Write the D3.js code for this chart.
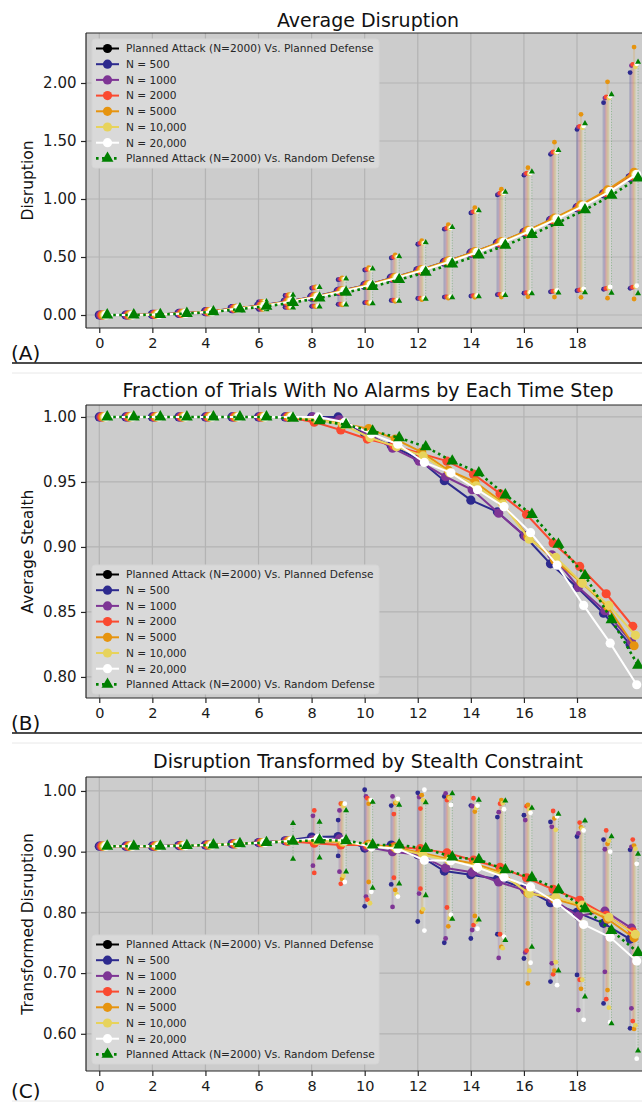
<!DOCTYPE html>
<meta charset="utf-8">
<style>
body { margin: 0; background: #fff; }
text { font-family: "DejaVu Sans", sans-serif; }
.grid line { stroke: #b3b3b3; stroke-width: 1.2; }
.axis path, .axis line { stroke: #262626; stroke-width: 1.2; }
.axis text { fill: #1a1a1a; }
.legend text { font-size: 10.6px; fill: #262626; }
</style>
<body>
<script src="https://d3js.org/d3.v7.min.js"></script>
<script>
const steps = [0,1,2,3,4,5,6,7,8,9,10,11,12,13,14,15,16,17,18,19,20];
const xTicks = [0,2,4,6,8,10,12,14,16,18];
const seriesNames = ["N = 500","N = 1000","N = 2000","N = 5000","N = 10,000","N = 20,000"];
const seriesColors = ["#2d2a8e","#7e3595","#fa4a30","#e6940f","#e7d35c","#ffffff"];
const randomColor = "#008000";
const legendLabels = ["Planned Attack (N=2000) Vs. Planned Defense"].concat(seriesNames, ["Planned Attack (N=2000) Vs. Random Defense"]);

// panel A: average disruption (rows: N = 500 ... 20,000)
const disruptionMean = [
  [0,0,0.005,0.014,0.029,0.055,0.079,0.114,0.154,0.204,0.255,0.318,0.383,0.455,0.533,0.618,0.712,0.815,0.925,1.045,1.185],
  [0,0,0.005,0.014,0.029,0.055,0.080,0.115,0.155,0.205,0.256,0.319,0.385,0.457,0.535,0.620,0.715,0.818,0.928,1.050,1.190],
  [0,0,0.005,0.014,0.029,0.056,0.080,0.115,0.156,0.206,0.257,0.320,0.386,0.458,0.537,0.623,0.718,0.822,0.933,1.056,1.200],
  [0,0,0.005,0.015,0.030,0.057,0.081,0.117,0.158,0.209,0.261,0.325,0.392,0.466,0.546,0.633,0.730,0.836,0.950,1.078,1.230],
  [0,0,0.005,0.014,0.029,0.056,0.080,0.116,0.157,0.207,0.258,0.321,0.388,0.461,0.540,0.626,0.722,0.826,0.938,1.062,1.210],
  [0,0,0.005,0.014,0.029,0.056,0.080,0.116,0.157,0.207,0.259,0.322,0.389,0.462,0.541,0.628,0.724,0.829,0.941,1.066,1.212]
];
const disruptionMax = [
  [0,0,0.005,0.014,0.029,0.074,0.113,0.168,0.232,0.305,0.388,0.492,0.610,0.740,0.880,1.035,1.205,1.385,1.600,1.830,2.090],
  [0,0,0.005,0.014,0.029,0.075,0.114,0.170,0.235,0.308,0.392,0.497,0.615,0.745,0.887,1.043,1.215,1.398,1.620,1.870,2.150],
  [0,0,0.005,0.014,0.029,0.075,0.115,0.171,0.236,0.310,0.394,0.500,0.620,0.750,0.892,1.050,1.222,1.405,1.625,1.880,2.160],
  [0,0,0.005,0.015,0.030,0.077,0.118,0.176,0.243,0.320,0.408,0.518,0.642,0.778,0.925,1.085,1.270,1.490,1.730,2.010,2.310],
  [0,0,0.005,0.014,0.029,0.075,0.115,0.171,0.236,0.309,0.393,0.499,0.618,0.748,0.890,1.047,1.218,1.400,1.615,1.870,2.140],
  [0,0,0.005,0.014,0.029,0.075,0.115,0.171,0.237,0.311,0.395,0.501,0.621,0.752,0.894,1.052,1.225,1.408,1.630,1.885,2.165]
];
const disruptionMin = [
  [0,0,0.005,0.014,0.029,0.040,0.049,0.066,0.075,0.092,0.106,0.126,0.143,0.155,0.163,0.175,0.188,0.200,0.210,0.222,0.230],
  [0,0,0.005,0.014,0.029,0.040,0.049,0.066,0.076,0.093,0.107,0.127,0.144,0.156,0.165,0.177,0.190,0.203,0.213,0.226,0.236],
  [0,0,0.005,0.014,0.029,0.041,0.050,0.067,0.077,0.094,0.108,0.128,0.145,0.157,0.166,0.178,0.192,0.205,0.216,0.229,0.240],
  [0,0,0.005,0.015,0.030,0.040,0.048,0.064,0.073,0.088,0.100,0.118,0.132,0.145,0.152,0.155,0.157,0.155,0.152,0.145,0.138],
  [0,0,0.005,0.014,0.029,0.041,0.050,0.067,0.077,0.094,0.108,0.128,0.145,0.158,0.167,0.180,0.194,0.208,0.220,0.234,0.245],
  [0,0,0.005,0.014,0.029,0.041,0.050,0.067,0.078,0.095,0.109,0.129,0.146,0.159,0.169,0.182,0.197,0.212,0.226,0.242,0.252]
];
const disruptionRandomMean = [0,0,0.004,0.013,0.027,0.052,0.075,0.108,0.146,0.195,0.245,0.305,0.368,0.440,0.517,0.600,0.694,0.797,0.907,1.032,1.180];
const disruptionRandomMax  = [0,0,0.004,0.013,0.027,0.076,0.117,0.173,0.240,0.313,0.398,0.505,0.625,0.757,0.900,1.060,1.235,1.420,1.650,1.900,2.180];
const disruptionRandomMin  = [0,0,0.004,0.013,0.027,0.039,0.047,0.063,0.072,0.088,0.100,0.120,0.137,0.150,0.160,0.170,0.185,0.192,0.195,0.190,0.186];

// panel B: fraction of trials with no alarms
const stealthMean = [
  [1,1,1,1,1,1,1,1,1.000,1.000,0.987,0.978,0.968,0.951,0.936,0.927,0.909,0.887,0.869,0.849,0.825],
  [1,1,1,1,1,1,1,1,1.000,0.998,0.988,0.976,0.966,0.954,0.944,0.926,0.908,0.894,0.869,0.851,0.827],
  [1,1,1,1,1,1,1,1,0.996,0.990,0.983,0.978,0.972,0.966,0.956,0.941,0.925,0.903,0.885,0.864,0.839],
  [1,1,1,1,1,1,1,1,0.998,0.995,0.991,0.983,0.973,0.959,0.950,0.935,0.908,0.890,0.873,0.854,0.824],
  [1,1,1,1,1,1,1,1,0.998,0.994,0.984,0.977,0.970,0.957,0.947,0.933,0.906,0.892,0.872,0.855,0.832],
  [1,1,1,1,1,1,1,1,1.000,0.996,0.987,0.979,0.965,0.957,0.944,0.931,0.911,0.886,0.855,0.826,0.794]
];
const stealthRandomMean = [1,1,1,1,1,1,1,0.999,0.997,0.994,0.989,0.984,0.977,0.966,0.957,0.940,0.925,0.902,0.878,0.844,0.809];

// panel C: disruption transformed by stealth constraint
const transformedMean = [
  [0.909,0.909,0.909,0.910,0.911,0.913,0.915,0.918,0.924,0.925,0.906,0.911,0.895,0.868,0.862,0.855,0.840,0.816,0.800,0.782,0.756],
  [0.909,0.909,0.909,0.910,0.911,0.913,0.915,0.918,0.920,0.921,0.908,0.900,0.895,0.873,0.866,0.850,0.836,0.822,0.794,0.802,0.774],
  [0.909,0.909,0.909,0.910,0.911,0.913,0.915,0.917,0.914,0.911,0.911,0.908,0.905,0.898,0.886,0.874,0.857,0.838,0.820,0.795,0.768],
  [0.909,0.909,0.909,0.910,0.911,0.913,0.915,0.918,0.918,0.915,0.912,0.907,0.898,0.888,0.880,0.866,0.832,0.822,0.810,0.789,0.758],
  [0.909,0.909,0.909,0.910,0.911,0.913,0.915,0.918,0.919,0.916,0.910,0.905,0.895,0.885,0.876,0.862,0.831,0.825,0.812,0.792,0.764],
  [0.909,0.909,0.909,0.910,0.911,0.913,0.915,0.918,0.922,0.918,0.908,0.905,0.886,0.885,0.874,0.858,0.842,0.815,0.780,0.759,0.720]
];
const transformedMax = [
  [0.909,0.909,0.909,0.910,0.911,0.913,0.915,0.918,0.926,0.952,1.002,0.976,0.997,0.991,0.976,0.957,0.960,0.949,0.925,0.920,0.903],
  [0.909,0.909,0.909,0.910,0.911,0.913,0.915,0.918,0.959,0.968,0.991,0.991,0.990,0.996,0.975,0.965,0.952,0.941,0.930,0.904,0.908],
  [0.909,0.909,0.909,0.910,0.911,0.913,0.915,0.917,0.968,0.979,0.988,0.962,0.971,0.985,0.988,0.979,0.975,0.967,0.948,0.935,0.920],
  [0.909,0.909,0.909,0.910,0.911,0.913,0.915,0.918,0.920,0.979,0.979,0.980,0.993,0.990,0.966,0.985,0.977,0.955,0.940,0.913,0.910],
  [0.909,0.909,0.909,0.910,0.911,0.913,0.915,0.918,0.921,0.975,0.985,0.982,0.985,0.988,0.972,0.980,0.970,0.936,0.938,0.918,0.905],
  [0.909,0.909,0.909,0.910,0.911,0.913,0.915,0.918,0.924,0.979,0.985,0.987,1.002,0.977,0.976,0.970,0.964,0.958,0.935,0.900,0.880]
];
const transformedMin = [
  [0.909,0.909,0.909,0.910,0.911,0.913,0.915,0.918,0.922,0.893,0.810,0.846,0.785,0.750,0.757,0.764,0.724,0.686,0.697,0.650,0.609],
  [0.909,0.909,0.909,0.910,0.911,0.913,0.915,0.918,0.877,0.867,0.826,0.809,0.831,0.757,0.771,0.725,0.734,0.716,0.639,0.702,0.642],
  [0.909,0.909,0.909,0.910,0.911,0.913,0.915,0.917,0.865,0.847,0.821,0.857,0.839,0.808,0.779,0.764,0.737,0.698,0.689,0.657,0.621],
  [0.909,0.909,0.909,0.910,0.911,0.913,0.915,0.918,0.916,0.855,0.850,0.837,0.801,0.777,0.794,0.743,0.683,0.704,0.674,0.672,0.608],
  [0.909,0.909,0.909,0.910,0.911,0.913,0.915,0.918,0.917,0.860,0.815,0.830,0.805,0.790,0.785,0.741,0.704,0.718,0.689,0.643,0.614],
  [0.909,0.909,0.909,0.910,0.911,0.913,0.915,0.918,0.920,0.850,0.834,0.826,0.770,0.796,0.773,0.760,0.717,0.680,0.623,0.619,0.559]
];
const transformedRandomMean = [0.909,0.909,0.909,0.910,0.911,0.913,0.915,0.917,0.919,0.918,0.911,0.911,0.905,0.891,0.887,0.870,0.857,0.837,0.806,0.770,0.734];
const transformedRandomMax  = [0.909,0.909,0.909,0.910,0.911,0.913,0.915,0.947,0.949,0.968,0.982,0.977,0.981,0.996,0.985,0.984,0.972,0.962,0.951,0.925,0.896];
const transformedRandomMin  = [0.909,0.909,0.909,0.910,0.911,0.913,0.915,0.888,0.890,0.867,0.840,0.847,0.828,0.789,0.788,0.754,0.743,0.704,0.661,0.617,0.572];

const W = 642, H = 1103;
const svg = d3.select("body").append("svg").attr("width", W).attr("height", H);
svg.append("rect").attr("width", W).attr("height", H).attr("fill", "#fff");

const x = d3.scaleLinear().domain([-0.5, 20.75]).range([86, 650]);
const left = 86, right = 650;

const tri = d3.symbol().type(d3.symbolTriangle);

function drawPanel(p, idx) {
  const y = d3.scaleLinear().domain(p.yDomain).range([p.bottom, p.top]);
  const g = svg.append("g");

  g.append("rect").attr("x", left).attr("y", p.top)
    .attr("width", right - left).attr("height", p.bottom - p.top).attr("fill", "#cccccc");

  const clipId = "clip" + idx;
  svg.append("clipPath").attr("id", clipId).append("rect")
    .attr("x", left).attr("y", p.top).attr("width", right - left).attr("height", p.bottom - p.top);

  // grid
  const grid = g.append("g").attr("class", "grid");
  grid.selectAll(".gx").data(xTicks).enter().append("line")
    .attr("x1", d => x(d)).attr("x2", d => x(d)).attr("y1", p.top).attr("y2", p.bottom);
  grid.selectAll(".gy").data(p.yTicks).enter().append("line")
    .attr("x1", left).attr("x2", right).attr("y1", d => y(d)).attr("y2", d => y(d));

  const plot = g.append("g").attr("clip-path", "url(#" + clipId + ")");

  // min/max ranges
  if (p.max) {
    p.max.forEach((row, j) => {
      const off = j * 0.05;
      plot.append("g").selectAll("line").data(steps).enter().append("line")
        .attr("x1", t => x(t + off)).attr("x2", t => x(t + off))
        .attr("y1", (t, k) => y(p.min[j][k])).attr("y2", (t, k) => y(row[k]))
        .attr("stroke", seriesColors[j]).attr("stroke-width", 2).attr("opacity", 0.18);
    });
    plot.append("g").selectAll("line").data(steps).enter().append("line")
      .attr("x1", t => x(t + 0.3)).attr("x2", t => x(t + 0.3))
      .attr("y1", (t, k) => y(p.rMin[k])).attr("y2", (t, k) => y(p.rMax[k]))
      .attr("stroke", randomColor).attr("stroke-width", 1).attr("stroke-dasharray", "1,1.7").attr("opacity", 0.3);
    p.max.forEach((row, j) => {
      const off = j * 0.05;
      [row, p.min[j]].forEach(vals => {
        plot.append("g").selectAll("circle").data(steps).enter().append("circle")
          .attr("cx", t => x(t + off)).attr("cy", (t, k) => y(vals[k]))
          .attr("r", 2.4).attr("fill", seriesColors[j]);
      });
    });
    [p.rMax, p.rMin].forEach(vals => {
      plot.append("g").selectAll("path").data(steps).enter().append("path")
        .attr("d", tri.size(16)())
        .attr("transform", (t, k) => "translate(" + x(t + 0.3) + "," + y(vals[k]) + ")")
        .attr("fill", randomColor);
    });
  }

  // mean lines
  p.mean.forEach((row, j) => {
    const off = j * 0.05;
    const line = d3.line().x((d, k) => x(steps[k] + off)).y(d => y(d));
    plot.append("path").datum(row).attr("d", line)
      .attr("fill", "none").attr("stroke", seriesColors[j]).attr("stroke-width", 2);
    plot.append("g").selectAll("circle").data(row).enter().append("circle")
      .attr("cx", (d, k) => x(steps[k] + off)).attr("cy", d => y(d))
      .attr("r", 4.6).attr("fill", seriesColors[j]);
  });
  const rLine = d3.line().x((d, k) => x(steps[k] + 0.3)).y(d => y(d));
  plot.append("path").datum(p.rMean).attr("d", rLine)
    .attr("fill", "none").attr("stroke", randomColor).attr("stroke-width", 2.6)
    .attr("stroke-dasharray", "2.6,3.4");
  plot.append("g").selectAll("path").data(p.rMean).enter().append("path")
    .attr("d", tri.size(62)())
    .attr("transform", (d, k) => "translate(" + x(steps[k] + 0.3) + "," + y(d) + ")")
    .attr("fill", randomColor);

  // axes
  const ax = g.append("g").attr("class", "axis").attr("transform", "translate(0," + p.bottom + ")")
    .call(d3.axisBottom(x).tickValues(xTicks).tickSize(5).tickSizeOuter(0).tickFormat(d3.format("d")));
  ax.select(".domain").remove();
  ax.selectAll("text").attr("font-size", 14.5).attr("dy", "0.85em");
  const ay = g.append("g").attr("class", "axis").attr("transform", "translate(" + left + ",0)")
    .call(d3.axisLeft(y).tickValues(p.yTicks).tickSize(5).tickFormat(d3.format(".2f")));
  ay.select(".domain").remove();
  ay.selectAll("text").attr("font-size", 15).attr("dx", "-0.1em");
  g.append("line").attr("x1", left).attr("x2", left).attr("y1", p.top).attr("y2", p.bottom)
    .attr("stroke", "#262626").attr("stroke-width", 1.2);
  g.append("line").attr("x1", left).attr("x2", W).attr("y1", p.bottom).attr("y2", p.bottom)
    .attr("stroke", "#262626").attr("stroke-width", 1.2);
  g.append("line").attr("x1", left).attr("x2", W).attr("y1", p.top).attr("y2", p.top)
    .attr("stroke", "#262626").attr("stroke-width", 1.2);

  // legend
  const lg = g.append("g").attr("class", "legend").attr("transform", "translate(92," + p.legendTop + ")");
  lg.append("rect").attr("width", 287).attr("height", 129).attr("rx", 3)
    .attr("fill", "#d9d9d9").attr("stroke", "#d4d4d4");
  legendLabels.forEach((lab, k) => {
    const ly = 9.5 + k * 15.7;
    const isRandom = k === legendLabels.length - 1;
    const col = k === 0 ? "#000" : (isRandom ? randomColor : seriesColors[k - 1]);
    lg.append("line").attr("x1", 4).attr("x2", 27).attr("y1", ly).attr("y2", ly)
      .attr("stroke", col).attr("stroke-width", isRandom ? 2.6 : 2)
      .attr("stroke-dasharray", isRandom ? "2.6,3.4" : null);
    if (isRandom) {
      lg.append("path").attr("d", tri.size(62)()).attr("transform", "translate(15.5," + ly + ")").attr("fill", col);
    } else {
      lg.append("circle").attr("cx", 15.5).attr("cy", ly).attr("r", 4.6).attr("fill", col);
    }
    lg.append("text").attr("x", 34).attr("y", ly).attr("dy", "0.36em").text(lab);
  });

  // titles
  svg.append("text").attr("x", (left + right) / 2).attr("y", p.titleY).attr("text-anchor", "middle")
    .attr("font-size", 19).attr("fill", "#111").text(p.title);
  svg.append("text").attr("transform", "translate(33," + (p.top + p.bottom) / 2 + ") rotate(-90)")
    .attr("text-anchor", "middle").attr("font-size", 15.5).attr("fill", "#111").text(p.ylabel);
  svg.append("text").attr("x", 11).attr("y", p.tagY).attr("font-size", 20).attr("fill", "#111").text(p.tag);
}

const panels = [
  { title: "Average Disruption", ylabel: "Disruption", tag: "(A)",
    top: 33, bottom: 328, yDomain: [-0.112, 2.431], yTicks: [0, 0.5, 1, 1.5, 2],
    mean: disruptionMean, min: disruptionMin, max: disruptionMax,
    rMean: disruptionRandomMean, rMin: disruptionRandomMin, rMax: disruptionRandomMax,
    legendTop: 39, titleY: 27, tagY: 360 },
  { title: "Fraction of Trials With No Alarms by Each Time Step", ylabel: "Average Stealth", tag: "(B)",
    top: 405, bottom: 698, yDomain: [0.7838, 1.0092], yTicks: [0.80, 0.85, 0.90, 0.95, 1.00],
    mean: stealthMean, rMean: stealthRandomMean,
    legendTop: 565, titleY: 397, tagY: 730 },
  { title: "Disruption Transformed by Stealth Constraint", ylabel: "Transformed Disruption", tag: "(C)",
    top: 777, bottom: 1071, yDomain: [0.5387, 1.023], yTicks: [0.6, 0.7, 0.8, 0.9, 1.0],
    mean: transformedMean, min: transformedMin, max: transformedMax,
    rMean: transformedRandomMean, rMin: transformedRandomMin, rMax: transformedRandomMax,
    legendTop: 935, titleY: 768, tagY: 1098 }
];
panels.forEach(drawPanel);

// separators between panels
[[363, 373], [733, 743]].forEach(([a, b]) => {
  svg.append("line").attr("x1", 12).attr("x2", W).attr("y1", a).attr("y2", a).attr("stroke", "#111").attr("stroke-width", 1.3);
  svg.append("line").attr("x1", 12).attr("x2", W).attr("y1", b).attr("y2", b).attr("stroke", "#e8e8e8").attr("stroke-width", 1);
});
svg.append("line").attr("x1", 12).attr("x2", W).attr("y1", 1101).attr("y2", 1101).attr("stroke", "#e8e8e8").attr("stroke-width", 1);
</script>
</body>
